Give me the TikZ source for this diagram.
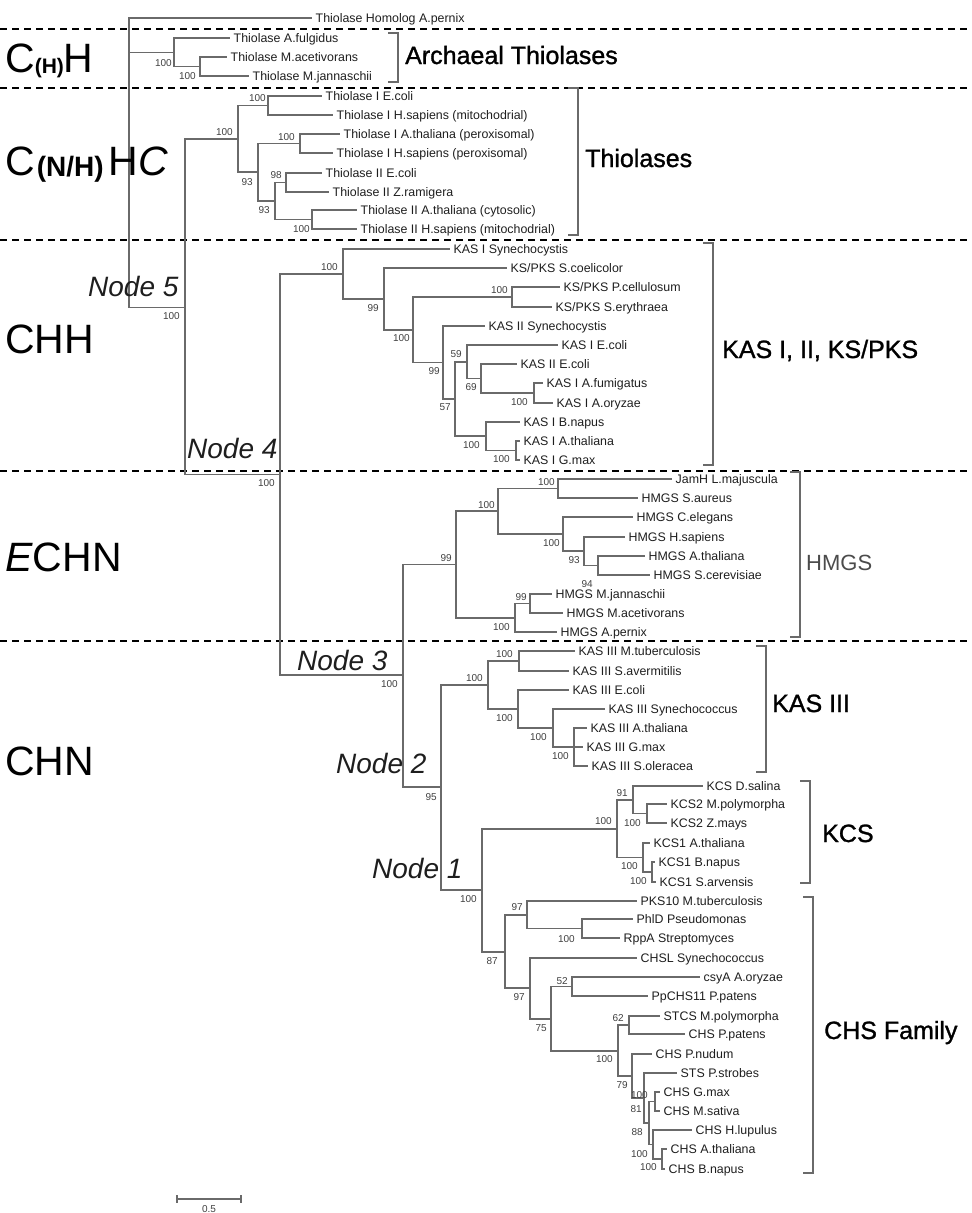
\documentclass[tikz,border=0pt]{standalone}
\usepackage{fontspec}
\setmainfont{Liberation Sans}
\newfontfamily\cladefont[RawFeature={embolden=1.2}]{Liberation Sans}
\definecolor{treegray}{HTML}{6A6A6A}
\definecolor{txt}{HTML}{1E1E1E}
\newcommand\tipn[4]{\node[tipst] (#1) at (#2,#3) {#4};}
\newcommand\bsl[4]{\node[bsst] (#1) at (#2,#3) {#4};}
\newcommand\ipt[3]{\coordinate (#1) at (#2,#3);}
\begin{document}
\begin{tikzpicture}[x=1pt,y=-1pt,
 br/.style={draw=treegray,line width=1.1pt},
 tipst/.style={anchor=west,inner xsep=3.5pt,inner ysep=0pt,font=\fontsize{12.4}{12.4}\selectfont,text height=8.9pt,text depth=0pt,text=txt},
 bsst/.style={anchor=east,inner sep=0pt,font=\fontsize{10}{10}\selectfont,text=txt!85!white},
 sepline/.style={draw=black,line width=1.8pt,dash pattern=on 7pt off 5pt},
 brk/.style={draw=treegray,line width=1.3pt},
 cladelab/.style={anchor=base west,inner sep=0pt,font=\cladefont\fontsize{25}{25}\selectfont,text=black},
 biglab/.style={anchor=base west,inner sep=0pt,font=\fontsize{41}{41}\selectfont,text=black},
 nodelab/.style={anchor=base west,inner sep=0pt,font=\fontsize{28}{28}\selectfont\itshape,text=txt}]
\useasboundingbox (0,0) rectangle (972,1213);
% separators
\foreach \yy/\nm in {29/a,88/b,240/c,471/d,641/e}{
  \coordinate (s\nm L) at (0,\yy); \coordinate (s\nm R) at (972,\yy);
  \draw[sepline] (s\nm L) -- (s\nm R);}
% tips
\tipn{tPer}{312}{18}{Thiolase Homolog A.pernix}
\tipn{tFul}{230}{38}{Thiolase A.fulgidus}
\tipn{tMac}{227}{57}{Thiolase M.acetivorans}
\tipn{tMja}{249}{76}{Thiolase M.jannaschii}
\tipn{tT1}{322}{96}{Thiolase I E.coli}
\tipn{tT2}{333}{115}{Thiolase I H.sapiens (mitochodrial)}
\tipn{tT3}{340}{134}{Thiolase I A.thaliana (peroxisomal)}
\tipn{tT4}{333}{153}{Thiolase I H.sapiens (peroxisomal)}
\tipn{tT5}{322}{173}{Thiolase II E.coli}
\tipn{tT6}{329}{192}{Thiolase II Z.ramigera}
\tipn{tT7}{357}{210}{Thiolase II A.thaliana (cytosolic)}
\tipn{tT8}{357}{229}{Thiolase II H.sapiens (mitochodrial)}
\tipn{tK1}{450}{249}{KAS I Synechocystis}
\tipn{tK2}{507}{268}{KS/PKS S.coelicolor}
\tipn{tK3}{560}{287}{KS/PKS P.cellulosum}
\tipn{tK4}{552}{307}{KS/PKS S.erythraea}
\tipn{tK5}{485}{326}{KAS II Synechocystis}
\tipn{tK6}{558}{345}{KAS I E.coli}
\tipn{tK7}{517}{364}{KAS II E.coli}
\tipn{tK8}{543}{383}{KAS I A.fumigatus}
\tipn{tK9}{553}{403}{KAS I A.oryzae}
\tipn{tK10}{520}{422}{KAS I B.napus}
\tipn{tK11}{520}{441}{KAS I A.thaliana}
\tipn{tK12}{520}{460}{KAS I G.max}
\tipn{tH1}{672}{479}{JamH L.majuscula}
\tipn{tH2}{638}{498}{HMGS S.aureus}
\tipn{tH3}{633}{517}{HMGS C.elegans}
\tipn{tH4}{625}{537}{HMGS H.sapiens}
\tipn{tH5}{645}{556}{HMGS A.thaliana}
\tipn{tH6}{650}{575}{HMGS S.cerevisiae}
\tipn{tH7}{552}{594}{HMGS M.jannaschii}
\tipn{tH8}{563}{613}{HMGS M.acetivorans}
\tipn{tH9}{557}{632}{HMGS A.pernix}
\tipn{tL1}{575}{651}{KAS III M.tuberculosis}
\tipn{tL2}{569}{671}{KAS III S.avermitilis}
\tipn{tL3}{569}{690}{KAS III E.coli}
\tipn{tL4}{605}{709}{KAS III Synechococcus}
\tipn{tL5}{587}{728}{KAS III A.thaliana}
\tipn{tL6}{583}{747}{KAS III G.max}
\tipn{tL7}{588}{766}{KAS III S.oleracea}
\tipn{tC1}{703}{786}{KCS D.salina}
\tipn{tC2}{667}{804}{KCS2 M.polymorpha}
\tipn{tC3}{667}{823}{KCS2 Z.mays}
\tipn{tC4}{650}{843}{KCS1 A.thaliana}
\tipn{tC5}{655}{862}{KCS1 B.napus}
\tipn{tC6}{656}{882}{KCS1 S.arvensis}
\tipn{tS1}{637}{901}{PKS10 M.tuberculosis}
\tipn{tS2}{633}{919}{PhlD Pseudomonas}
\tipn{tS3}{620}{938}{RppA Streptomyces}
\tipn{tS4}{637}{958}{CHSL Synechococcus}
\tipn{tS5}{700}{977}{csyA A.oryzae}
\tipn{tS6}{648}{996}{PpCHS11 P.patens}
\tipn{tS7}{660}{1016}{STCS M.polymorpha}
\tipn{tS8}{685}{1034}{CHS P.patens}
\tipn{tS9}{652}{1054}{CHS P.nudum}
\tipn{tS10}{677}{1073}{STS P.strobes}
\tipn{tS11}{660}{1092}{CHS G.max}
\tipn{tS12}{660}{1111}{CHS M.sativa}
\tipn{tS13}{692}{1130}{CHS H.lupulus}
\tipn{tS14}{667}{1149}{CHS A.thaliana}
\tipn{tS15}{665}{1169}{CHS B.napus}
% internal nodes
\ipt{root}{129}{162}
\ipt{nA1}{174}{52.5}\ipt{nA2}{200}{66.5}
\ipt{n5}{185}{307.5}
\ipt{nT0}{238}{139}\ipt{nT1}{268}{105.5}\ipt{nT2}{258}{172}\ipt{nT3}{300}{143.5}
\ipt{nT4}{275}{201}\ipt{nT5}{286}{182.5}\ipt{nT6}{312}{219.5}
\ipt{n4}{280}{474.5}
\ipt{nK0}{343}{274}\ipt{nK2}{384}{299}\ipt{nK3}{413}{330}\ipt{nK4}{512}{297}
\ipt{nK5}{443}{362.5}\ipt{nK6}{455}{399}\ipt{nK7}{467}{362}\ipt{nK8}{481}{378.5}
\ipt{nK9}{534}{393}\ipt{nK10}{486}{436}\ipt{nK11}{516}{450.5}
\ipt{n3}{403}{675}
\ipt{nH0}{456}{564.5}\ipt{nH1}{498}{511}\ipt{nH2}{558}{488.5}\ipt{nH3}{563}{534}
\ipt{nH4}{584}{551}\ipt{nH5}{598}{565.5}\ipt{nH6}{515}{618}\ipt{nH7}{530}{603.5}
\ipt{n2}{441}{787}
\ipt{nL0}{488}{685}\ipt{nL1}{519}{661}\ipt{nL2}{518}{709}\ipt{nL3}{553}{728}\ipt{nL4}{574}{747}
\ipt{n1}{482}{890}
\ipt{nC0}{617}{829}\ipt{nC1}{633}{800}\ipt{nC2}{647}{813.5}\ipt{nC3}{643}{857.5}\ipt{nC4}{652}{872}
\ipt{nS0}{505}{952}\ipt{nS1}{527}{915}\ipt{nS2}{582}{928.5}\ipt{nS3}{530}{988}
\ipt{nS4}{551}{1019}\ipt{nS5}{572}{986.5}\ipt{nS6}{618}{1051}\ipt{nS7}{629}{1025}
\ipt{nS8}{632}{1076}\ipt{nS9}{644}{1098}\ipt{nS10}{649}{1123}\ipt{nS11}{655}{1101.5}
\ipt{nS12}{653}{1144.5}\ipt{nS13}{662}{1159}
% branches
\draw[br] (root) |- (tPer) (root) |- (nA1) (root) |- (n5)
 (nA1) |- (tFul) (nA1) |- (nA2) (nA2) |- (tMac) (nA2) |- (tMja)
 (n5) |- (nT0) (n5) |- (n4)
 (nT0) |- (nT1) (nT0) |- (nT2) (nT1) |- (tT1) (nT1) |- (tT2)
 (nT2) |- (nT3) (nT2) |- (nT4) (nT3) |- (tT3) (nT3) |- (tT4)
 (nT4) |- (nT5) (nT4) |- (nT6) (nT5) |- (tT5) (nT5) |- (tT6)
 (nT6) |- (tT7) (nT6) |- (tT8)
 (n4) |- (nK0) (n4) |- (n3)
 (nK0) |- (tK1) (nK0) |- (nK2) (nK2) |- (tK2) (nK2) |- (nK3)
 (nK3) |- (nK4) (nK3) |- (nK5) (nK4) |- (tK3) (nK4) |- (tK4)
 (nK5) |- (tK5) (nK5) |- (nK6) (nK6) |- (nK7) (nK6) |- (nK10)
 (nK7) |- (tK6) (nK7) |- (nK8) (nK8) |- (tK7) (nK8) |- (nK9)
 (nK9) |- (tK8) (nK9) |- (tK9) (nK10) |- (tK10) (nK10) |- (nK11)
 (nK11) |- (tK11) (nK11) |- (tK12)
 (n3) |- (nH0) (n3) |- (n2)
 (nH0) |- (nH1) (nH0) |- (nH6) (nH1) |- (nH2) (nH1) |- (nH3)
 (nH2) |- (tH1) (nH2) |- (tH2) (nH3) |- (tH3) (nH3) |- (nH4)
 (nH4) |- (tH4) (nH4) |- (nH5) (nH5) |- (tH5) (nH5) |- (tH6)
 (nH6) |- (nH7) (nH6) |- (tH9) (nH7) |- (tH7) (nH7) |- (tH8)
 (n2) |- (nL0) (n2) |- (n1)
 (nL0) |- (nL1) (nL0) |- (nL2) (nL1) |- (tL1) (nL1) |- (tL2)
 (nL2) |- (tL3) (nL2) |- (nL3) (nL3) |- (tL4) (nL3) |- (nL4)
 (nL4) |- (tL5) (nL4) |- (tL6) (nL4) |- (tL7)
 (n1) |- (nC0) (n1) |- (nS0)
 (nC0) |- (nC1) (nC0) |- (nC3) (nC1) |- (tC1) (nC1) |- (nC2)
 (nC2) |- (tC2) (nC2) |- (tC3) (nC3) |- (tC4) (nC3) |- (nC4)
 (nC4) |- (tC5) (nC4) |- (tC6)
 (nS0) |- (nS1) (nS0) |- (nS3) (nS1) |- (tS1) (nS1) |- (nS2)
 (nS2) |- (tS2) (nS2) |- (tS3) (nS3) |- (tS4) (nS3) |- (nS4)
 (nS4) |- (nS5) (nS4) |- (nS6) (nS5) |- (tS5) (nS5) |- (tS6)
 (nS6) |- (nS7) (nS6) |- (nS8) (nS7) |- (tS7) (nS7) |- (tS8)
 (nS8) |- (tS9) (nS8) |- (nS9) (nS9) |- (tS10) (nS9) |- (nS10)
 (nS10) |- (nS11) (nS10) |- (nS12) (nS11) |- (tS11) (nS11) |- (tS12)
 (nS12) |- (tS13) (nS12) |- (nS13) (nS13) |- (tS14) (nS13) |- (tS15);
% bootstrap values
\bsl{bA1}{172}{63}{100}\bsl{bA2}{196}{76}{100}\bsl{b5}{180}{316}{100}
\bsl{bT0}{233}{132}{100}\bsl{bT1}{266}{98}{100}\bsl{bT3}{295}{137}{100}
\bsl{bT2}{253}{182}{93}\bsl{bT4}{270}{210}{93}\bsl{bT5}{282}{175}{98}\bsl{bT6}{310}{229}{100}
\bsl{b4}{275}{483}{100}
\bsl{bK0}{338}{267}{100}\bsl{bK2}{379}{308}{99}\bsl{bK3}{410}{338}{100}\bsl{bK4}{508}{290}{100}
\bsl{bK5}{440}{371}{99}\bsl{bK6}{451}{407}{57}\bsl{bK7}{462}{354}{59}\bsl{bK8}{477}{387}{69}
\bsl{bK9}{528}{402}{100}\bsl{bK10}{480}{445}{100}\bsl{bK11}{510}{459}{100}
\bsl{b3}{398}{684}{100}
\bsl{bH0}{452}{558}{99}\bsl{bH1}{495}{505}{100}\bsl{bH2}{555}{482}{100}\bsl{bH3}{560}{543}{100}
\bsl{bH4}{580}{560}{93}\bsl{bH5}{593}{584}{94}\bsl{bH6}{510}{627}{100}\bsl{bH7}{527}{597}{99}
\bsl{b2}{437}{797}{95}
\bsl{bL0}{483}{678}{100}\bsl{bL1}{513}{654}{100}\bsl{bL2}{513}{718}{100}\bsl{bL3}{547}{737}{100}\bsl{bL4}{569}{756}{100}
\bsl{b1}{477}{899}{100}
\bsl{bC0}{612}{821}{100}\bsl{bC1}{628}{793}{91}\bsl{bC2}{641}{823}{100}\bsl{bC3}{638}{866}{100}\bsl{bC4}{647}{881}{100}
\bsl{bS0}{498}{961}{87}\bsl{bS1}{523}{907}{97}\bsl{bS2}{575}{939}{100}\bsl{bS3}{525}{997}{97}
\bsl{bS4}{547}{1028}{75}\bsl{bS5}{568}{981}{52}\bsl{bS6}{613}{1059}{100}\bsl{bS7}{624}{1018}{62}
\bsl{bS8}{628}{1085}{79}\bsl{bS9}{642}{1109}{81}\bsl{bS10}{643}{1132}{88}\bsl{bS11}{648}{1095}{100}
\bsl{bS12}{648}{1154}{100}\bsl{bS13}{657}{1167}{100}
% clade brackets
\foreach \nm/\bx/\ta/\tb in {ar/398/33/82, th/578/88/235, ka/713/243/465, hm/800/472/637, k3/766/646/772, kc/810/781/883, ch/813/897/1173}{
  \coordinate (\nm T) at (\bx,\ta); \coordinate (\nm B) at (\bx,\tb);
  \draw[brk] ([xshift=-10pt]\nm T) -- (\nm T) -- (\nm B) -- ([xshift=-10pt]\nm B);}
\node[cladelab] (lAr) at (405,64) {Archaeal Thiolases};
\node[cladelab] (lTh) at (585,167) {Thiolases};
\node[cladelab] (lKa) at (722,358) {KAS I, II, KS/PKS};
\node[cladelab,font=\fontsize{22}{22}\selectfont,text=txt!80!white] (lHm) at (806,570) {HMGS};
\node[cladelab] (lK3) at (772,712) {KAS III};
\node[cladelab] (lKc) at (822,842) {KCS};
\node[cladelab] (lCh) at (824,1039) {CHS Family};
% left group labels
\node[biglab] (gA) at (5,72) {C\raisebox{-1pt}{\fontsize{21}{21}\selectfont\bfseries (H)}H};
\node[biglab] (gB) at (5,175) {C\kern2pt\raisebox{-1pt}{\fontsize{28}{28}\selectfont\bfseries (N/H)}\kern5pt H\textit{C}};
\node[biglab] (gC) at (5,353) {CHH};
\node[biglab] (gD) at (5,571) {\textit{E}CHN};
\node[biglab] (gE) at (5,775) {CHN};
% node labels
\node[nodelab] (N5) at (88,296) {Node 5};
\node[nodelab] (N4) at (187,458) {Node 4};
\node[nodelab] (N3) at (297,670) {Node 3};
\node[nodelab] (N2) at (336,773) {Node 2};
\node[nodelab] (N1) at (372,878) {Node 1};
% scale bar
\coordinate (sbL) at (177,1199); \coordinate (sbR) at (241,1199);
\draw[br] (sbL) -- (sbR) ([yshift=4pt]sbL) -- ([yshift=-4pt]sbL) ([yshift=4pt]sbR) -- ([yshift=-4pt]sbR);
\node[bsst,anchor=center] (sbT) at (209,1209) {0.5};
\end{tikzpicture}
\end{document}
